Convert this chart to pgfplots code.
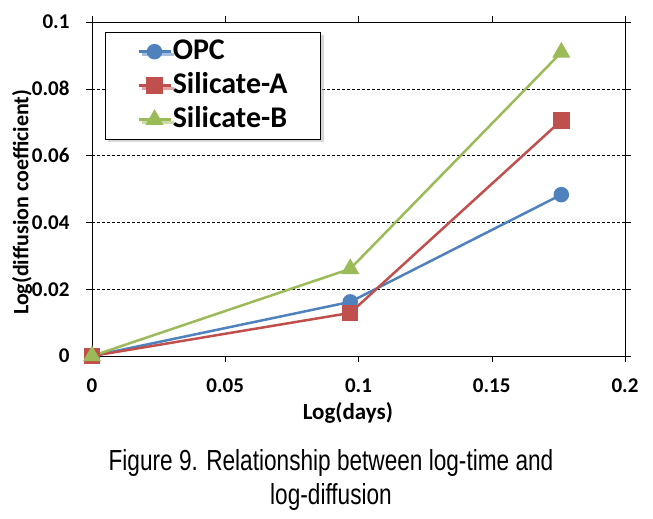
\documentclass[border=0pt]{standalone}
\usepackage{pgfplots}
\pgfplotsset{compat=1.18}
\usetikzlibrary{shadows}
\usepackage{fontspec}
\setmainfont{Carlito}
\newfontfamily\capfont[FakeStretch=0.78]{Liberation Sans}
\definecolor{cblue}{HTML}{4F81BD}
\definecolor{cred}{HTML}{C0504D}
\definecolor{cgreen}{HTML}{9BBB59}
\begin{document}
\begin{tikzpicture}
\useasboundingbox (0pt,0pt) rectangle (653pt,519pt);
\begin{axis}[
  at={(92pt,163pt)}, anchor=south west,
  scale only axis, width=533pt, height=334pt,
  xmin=0, xmax=0.2, ymin=0, ymax=0.1,
  xtick={0,0.05,...,0.2}, ytick={0,0.02,...,0.1},
  xticklabels={0,0.05,0.1,0.15,0.2},
  yticklabels={0,0.02,0.04,0.06,0.08,0.1},
  /pgf/number format/assume math mode=true,
  tick align=outside, major tick length=6pt,
  tick style={black, thin},
  ymajorgrids, grid style={black, densely dashed, thin},
  axis line style={black, thin},
  xticklabel style={font=\fontsize{21}{23}\selectfont\bfseries, anchor=north, yshift=-13pt},
  yticklabel style={font=\fontsize{21}{23}\selectfont\bfseries, anchor=east, xshift=-13pt},
  xlabel={Log(days)}, ylabel={Log(diffusion coefficient)},
  xlabel style={font=\fontsize{23}{25}\selectfont\bfseries, at={(axis description cs:0.48,0)}, anchor=center, yshift=-57pt},
  ylabel style={font=\fontsize{22}{24}\selectfont\bfseries, at={(axis description cs:-0.131,0.46)}, anchor=center},
  every axis plot/.append style={line width=2.5pt},
  legend style={at={(axis cs:0.0049,0.0970)}, anchor=north west,
    font=\fontsize{30}{32}\selectfont\bfseries, draw=black, thin,
    drop shadow={shadow xshift=3pt, shadow yshift=-3pt, fill=gray!60},
    fill=white, row sep=7pt, inner xsep=32pt, inner ysep=6pt,
    nodes={inner xsep=1pt, inner ysep=0pt, text height=21pt, text depth=6pt}},
  legend cell align=left,
  legend image code/.code={
    \draw[#1, mark repeat=2, mark phase=2] plot coordinates {(0pt,0pt) (16pt,0pt) (32pt,0pt)};},
  clip=false,
]
\addplot[cblue, mark=*, mark size=6.5pt] coordinates {(0,0) (0.0969,0.0162) (0.1761,0.0483)};
\addlegendentry{OPC}
\addplot[cred, mark=square*, mark size=7pt] coordinates {(0,0) (0.0969,0.0129) (0.1761,0.0705)};
\addlegendentry{Silicate-A}
\addplot[cgreen, mark=triangle*, mark size=8pt] coordinates {(0,0) (0.0969,0.0261) (0.1761,0.0909)};
\addlegendentry{Silicate-B}
\end{axis}
\node[font=\capfont\fontsize{29}{34}\selectfont, align=center, anchor=center] at (331pt,39pt) {Figure 9. Relationship between log-time and\\log-diffusion};
\end{tikzpicture}
\end{document}
